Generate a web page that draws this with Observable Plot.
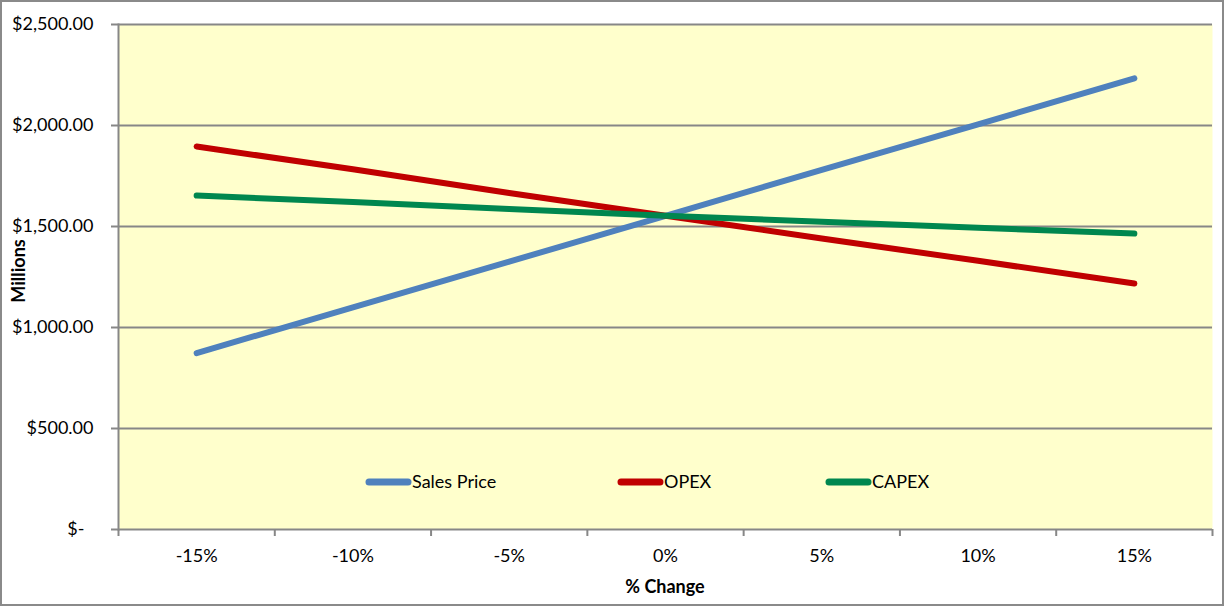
<!DOCTYPE html>
<html>
<head>
<meta charset="utf-8">
<script src="https://cdn.jsdelivr.net/npm/d3@7"></script>
<script src="https://cdn.jsdelivr.net/npm/@observablehq/plot@0.6"></script>
<style>
  html, body { margin: 0; padding: 0; background: #fff; }
  #chart svg { display: block; outline: 2px solid #8a8a8a; outline-offset: -2px; }
</style>
</head>
<body>
<div id="chart"></div>
<script>
// ---- Data ----
const pctChange   = [-15, -10, -5, 0, 5, 10, 15];
const salesPrice  = [873, 1100, 1326, 1553, 1780, 2006, 2233];
const opex        = [1896, 1783, 1666, 1553, 1441, 1330, 1218];
const capex       = [1653, 1621, 1587, 1553, 1523, 1494, 1465];
const seriesNames = ["Sales Price", "OPEX", "CAPEX"];
const seriesColors = ["#4F81BD", "#C00000", "#00874F"];
const yTicks      = [0, 500, 1000, 1500, 2000, 2500];
const xBoundaries = [-17.5, -12.5, -7.5, -2.5, 2.5, 7.5, 12.5, 17.5];
const xTitle = "% Change";
const yTitle = "Millions";

const seriesValues = [salesPrice, opex, capex];
const rows = [];
seriesNames.forEach((name, s) => {
  pctChange.forEach((p, i) => rows.push({series: name, pct: p, value: seriesValues[s][i]}));
});

const fmtY = d => d === 0 ? "$-\u2002" : "$" + d3.format(",.2f")(d);
const grid = "#878787";
const font = "Lato, 'Open Sans', sans-serif";

const chart = Plot.plot({
  width: 1224,
  height: 606,
  marginLeft: 118,
  marginRight: 12,
  marginTop: 24,
  marginBottom: 77,
  style: {fontFamily: font, fontSize: "18px", color: "#000", background: "#fff"},
  x: {type: "linear", domain: [xBoundaries[0], xBoundaries[xBoundaries.length - 1]]},
  y: {domain: [0, 2500]},
  color: {domain: seriesNames, range: seriesColors},
  marks: [
    Plot.frame({fill: "#FFFFCC", stroke: null}),
    Plot.gridY(yTicks, {stroke: grid, strokeOpacity: 1, strokeWidth: 2}),
    Plot.frame({anchor: "left", stroke: grid, strokeWidth: 2}),
    Plot.axisY(yTicks, {tickSize: 7, tickPadding: 18, tickFormat: fmtY, stroke: grid, strokeWidth: 2, fill: "#000", label: null, fontSize: 18}),
    Plot.axisX(xBoundaries, {tickSize: 7, tickFormat: () => "", stroke: grid, strokeWidth: 2, label: null}),
    Plot.axisX(pctChange, {tickSize: 0, tickPadding: 20, tickFormat: d => d + "%", fill: "#000", label: null, fontSize: 18}),
    Plot.line(rows, {x: "pct", y: "value", z: "series", stroke: "series", strokeWidth: 6, strokeLinecap: "round", strokeLinejoin: "round"})
  ]
});

const svg = d3.select(chart);

// ---- Axis titles ----
svg.append("text")
  .attr("x", 665).attr("y", 587).attr("dy", "0.35em")
  .attr("text-anchor", "middle").attr("font-family", font).attr("font-size", 18)
  .attr("font-weight", "bold").attr("fill", "#000").text(xTitle);
svg.append("text")
  .attr("transform", "translate(19,271) rotate(-90)").attr("dy", "0.35em")
  .attr("text-anchor", "middle").attr("font-family", font).attr("font-size", 18)
  .attr("font-weight", "bold").attr("fill", "#000").text(yTitle);

// ---- Legend inside the plot area ----
const legendY = 482;
const legendX = [365, 617, 825];
const lg = svg.append("g").attr("font-family", font).attr("font-size", 18).attr("text-anchor", "start");
seriesNames.forEach((name, i) => {
  const g = lg.append("g").attr("transform", `translate(${legendX[i]},${legendY})`);
  g.append("line").attr("x1", 4).attr("x2", 43).attr("y1", 0).attr("y2", 0)
    .attr("stroke", seriesColors[i]).attr("stroke-width", 7).attr("stroke-linecap", "round");
  g.append("text").attr("x", 47).attr("y", 0).attr("dy", "0.35em")
    .attr("text-anchor", "start").attr("fill", "#000").text(name);
});

document.getElementById("chart").appendChild(chart);
</script>
</body>
</html>
